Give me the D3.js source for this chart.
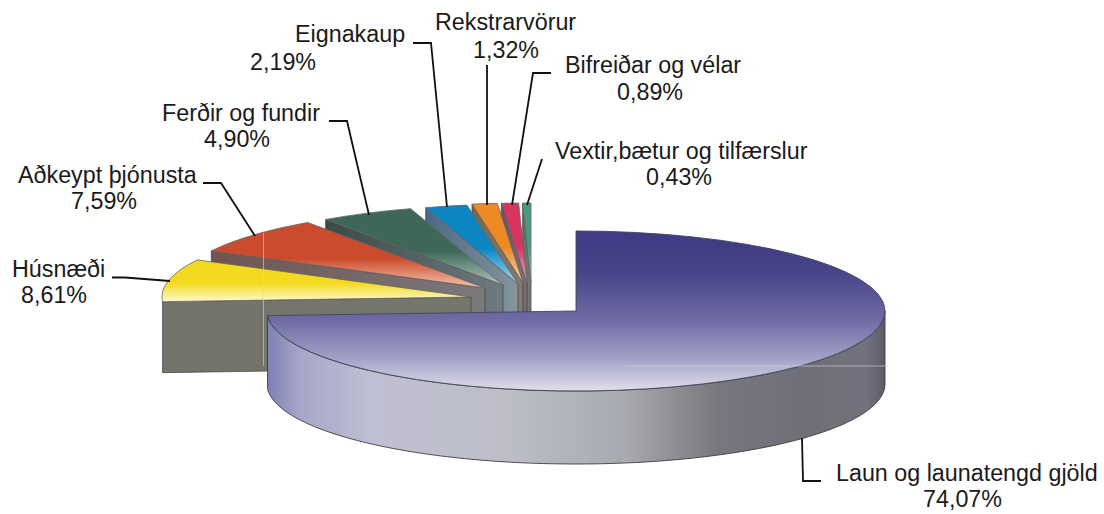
<!DOCTYPE html>
<html>
<head>
<meta charset="utf-8">
<script src="https://cdn.jsdelivr.net/npm/d3@7"></script>
<style>
  html, body { margin: 0; background: #fff; }
  text { font-family: "Liberation Sans", Arial, sans-serif; font-size: 23.3px; fill: #1a1a1a; }
</style>
</head>
<body>
<div id="root"></div>
<script>
const categories = ['Laun og launatengd gjöld', 'Húsnæði', 'Aðkeypt þjónusta', 'Ferðir og fundir', 'Eignakaup', 'Rekstrarvörur', 'Bifreiðar og vélar', 'Vextir,bætur og tilfærslur']
const shares = [74.07, 8.61, 7.59, 4.90, 2.19, 1.32, 0.89, 0.43]

// slice colours: top face [solid, pale], side wall [left, right]
const topColors = [
  null,
  ['#f4da1e', '#fdf9cf'],
  ['#cb4b2d', '#f3c4ae'],
  ['#3e6757', '#adc4bb'],
  ['#0b86c2', '#a9d8ee'],
  ['#ee8a24', '#f6d3a8'],
  ['#d9335f', '#eeb2c2'],
  ['#4b9b7a', '#b5d6c8']
]
const wallColors = [
  null,
  ['#72736a', '#75766c'],
  ['#70544e', '#7b797c'],
  ['#3b4947', '#6f7b80'],
  ['#4b6885', '#84949c'],
  ['#78664f', '#827c70'],
  ['#6d5260', '#7b7078'],
  ['#5c7069', '#7a7a7a']
]

const width = 1104
const height = 514
const rx = 309
const ry = 80
const depth = 73
const smallDepth = 71
// where each exploded slice has its tip
const tips = [[576, 311], [471, 297], [485, 288], [503, 285], [518, 284], [523, 283], [527, 283], [531, 283]]

const labelPos = [
  [836, 481, 923, 507],
  [12, 277, 21, 303],
  [18, 183, 71, 209],
  [162, 121, 204, 147],
  [295, 42, 250, 70],
  [435, 30, 473, 58],
  [565, 73, 617, 100],
  [555, 159, 646, 185]
]
const leaders = [
  [[802, 438], [803, 481], [821, 481]],
  [[112, 277.5], [125, 277.5], [170, 281]],
  [[203, 183], [221, 183], [255, 236]],
  [[329, 121], [347, 121], [369, 215]],
  [[413, 43], [431, 43], [447, 207]],
  [[487, 65], [487, 205]],
  [[551, 73], [533, 73], [512, 205]],
  [[542, 159], [527, 205]]
]

const svg = d3.select('#root').append('svg')
  .attr('width', width)
  .attr('height', height)
  .style('display', 'block')

const defs = svg.append('defs')

function addGradient (id, stops, horizontal) {
  const g = defs.append('linearGradient').attr('id', id)
  if (horizontal) g.attr('x1', 0).attr('x2', 1).attr('y1', 0).attr('y2', 0)
  else g.attr('x1', 0).attr('x2', 0).attr('y1', 0).attr('y2', 1)
  g.selectAll('stop').data(stops).join('stop')
    .attr('offset', d => d[0])
    .attr('stop-color', d => d[1])
}

addGradient('mainTop', [[0, '#3e3a84'], [0.25, '#474388'], [0.55, '#6e6ba4'], [0.8, '#a3a2c8'], [1, '#e0dfea']])
addGradient('mainWall', [[0, '#7f7fb3'], [0.05, '#a5a5c8'], [0.17, '#c0bfd3'], [0.38, '#bdbec8'], [0.58, '#a8aab0'], [0.73, '#77787e'], [0.87, '#6e6f78'], [0.97, '#72727e'], [1, '#5c5c68']], true)

topColors.forEach((c, i) => {
  if (!c) return
  addGradient('top' + i, [[0, c[0]], [0.55, c[0]], [1, c[1]]])
  addGradient('wall' + i, [[0, wallColors[i][0]], [1, wallColors[i][1]]], true)
})

const pie = d3.pie().sort(null)
const slices = pie(shares)
const arc = d3.arc().innerRadius(0).outerRadius(rx)

const point = (tip, a) => [tip[0] + rx * Math.sin(a), tip[1] - ry * Math.cos(a)]
const line = d3.line()

// back to front: the small slices first, the big one last
const order = d3.range(slices.length - 1, 0, -1)

order.forEach(i => {
  const tip = tips[i]
  const outer = point(tip, slices[i].startAngle)
  const g = svg.append('g')

  // flat side along the left radius
  g.append('path')
    .attr('d', line([tip, outer, [outer[0], outer[1] + smallDepth], [tip[0], tip[1] + smallDepth]]) + 'Z')
    .attr('fill', `url(#wall${i})`)
    .attr('stroke', '#3d3d3d')
    .attr('stroke-width', 0.7)

  g.append('path')
    .attr('transform', `translate(${tip[0]},${tip[1]}) scale(1,${ry / rx})`)
    .attr('d', arc(slices[i]))
    .attr('fill', `url(#top${i})`)
    .attr('stroke', '#666')
    .attr('stroke-width', 0.8)
    .attr('vector-effect', 'non-scaling-stroke')
})

// big slice, rim first
const main = slices[0]
const mainTip = tips[0]
const rimAngles = d3.range(Math.PI / 2, main.endAngle, 0.02).concat(main.endAngle)
const rimTop = rimAngles.map(a => point(mainTip, a))
const rimBottom = rimTop.map(p => [p[0], p[1] + depth]).reverse()

svg.append('path')
  .attr('d', line(rimTop.concat(rimBottom)) + 'Z')
  .attr('fill', 'url(#mainWall)')
  .attr('stroke', '#3d3d3d')
  .attr('stroke-width', 0.9)

svg.append('path')
  .attr('transform', `translate(${mainTip[0]},${mainTip[1]}) scale(1,${ry / rx})`)
  .attr('d', arc(main))
  .attr('fill', 'url(#mainTop)')
  .attr('stroke', '#45455a')
  .attr('stroke-width', 0.9)
  .attr('vector-effect', 'non-scaling-stroke')

// the thin pale seams left in the picture
svg.append('line').attr('x1', 263.5).attr('x2', 263.5).attr('y1', 233).attr('y2', 366)
  .attr('stroke', '#d8d6cc').attr('stroke-width', 0.6)
svg.append('line').attr('x1', 625).attr('x2', 888).attr('y1', 366).attr('y2', 366)
  .attr('stroke', '#d8d8e2').attr('stroke-width', 0.6)

svg.append('g').selectAll('path').data(leaders).join('path')
  .attr('d', d => line(d))
  .attr('fill', 'none')
  .attr('stroke', '#111')
  .attr('stroke-width', 1.8)

const labels = svg.append('g').selectAll('g').data(categories).join('g')
labels.append('text')
  .attr('x', (d, i) => labelPos[i][0])
  .attr('y', (d, i) => labelPos[i][1])
  .text(d => d)
labels.append('text')
  .attr('x', (d, i) => labelPos[i][2])
  .attr('y', (d, i) => labelPos[i][3])
  .text((d, i) => d3.format('.2f')(shares[i]).replace('.', ',') + '%')
</script>
</body>
</html>
